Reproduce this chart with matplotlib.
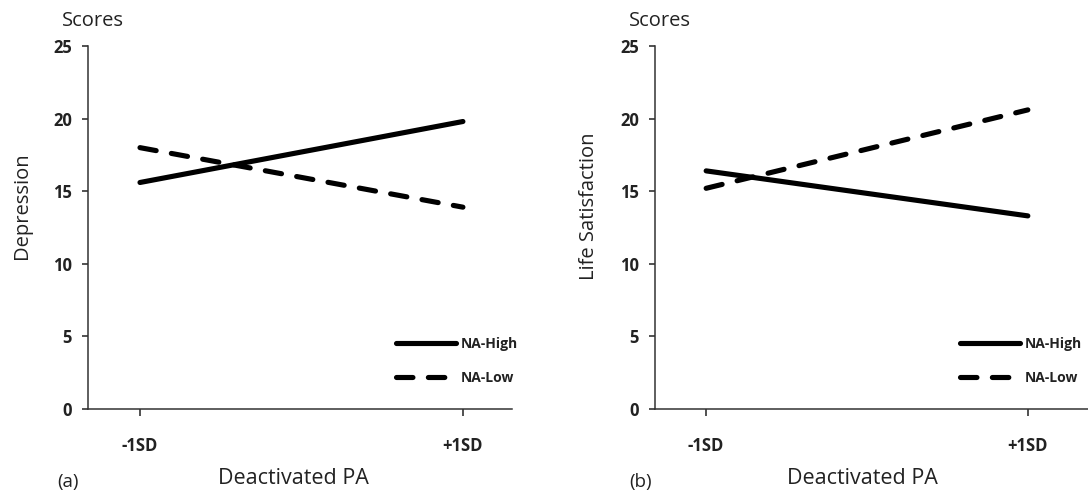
import numpy as np
import matplotlib.pyplot as plt

plt.rcParams['font.family'] = ['Open Sans', 'DejaVu Sans']

# Simple slopes data
x_levels = [0, 1]
x_labels = ["-1SD", "+1SD"]
y_ticks = [0, 5, 10, 15, 20, 25]

dep_high = [15.6, 19.8]   # NA-High, Depression
dep_low = [18.0, 13.9]    # NA-Low, Depression
ls_high = [16.4, 13.3]    # NA-High, Life Satisfaction
ls_low = [15.2, 20.6]     # NA-Low, Life Satisfaction

W, H = 1088, 492
fig = plt.figure(figsize=(W / 100, H / 100), dpi=100)


def px_axes(x0, x1, y0, y1):
    return fig.add_axes([x0 / W, 1 - y1 / H, (x1 - x0) / W, (y1 - y0) / H])


def style_panel(ax, xlim, ylabel, panel, xlab_x, leg_xy):
    ax.set_xlim(*xlim)
    ax.set_ylim(0, 25)
    for s in ['top', 'right']:
        ax.spines[s].set_visible(False)
    for s in ['left', 'bottom']:
        ax.spines[s].set_color('#333333')
        ax.spines[s].set_linewidth(1.1)
    ax.set_yticks(y_ticks)
    ax.set_xticks(x_levels)
    ax.set_xticklabels(x_labels)
    ax.tick_params(axis='y', length=4.5, width=1.1, pad=7, labelsize=12, colors='#222222')
    ax.tick_params(axis='x', direction='out', length=5, width=1.1, pad=15, labelsize=12, colors='#222222')
    for lab in ax.get_xticklabels() + ax.get_yticklabels():
        lab.set_fontweight('bold')
    pos = ax.get_position()
    fig.text(pos.x0 + 5 / W, 1 - 21 / H, "Scores", ha='center', va='center', fontsize=14.5, color='#222222')
    fig.text(pos.x0 - 66 / W, 1 - 206 / H, ylabel, rotation=90, ha='center', va='center',
             fontsize=14.5, color='#222222')
    fig.text(xlab_x / W, 1 - 479 / H, "Deactivated PA", ha='center', va='center',
             fontsize=15.5, color='#222222')
    fig.text(pos.x0 - panel[1] / W, 1 - 482 / H, panel[0], ha='center', va='center',
             fontsize=13.5, color='#222222')
    leg = ax.legend(loc='upper left', bbox_to_anchor=(leg_xy[0] / W, 1 - leg_xy[1] / H),
                    bbox_transform=fig.transFigure, frameon=False, handlelength=4.3,
                    handletextpad=0.35, labelspacing=1.45, borderpad=0, borderaxespad=0,
                    prop={'weight': 'bold', 'size': 10})
    for t in leg.get_texts():
        t.set_color('#222222')


lw = 3.7
dash = (3.2, 3.0)

# Panel (a)
ax1 = px_axes(88, 512, 46, 409)
ax1.plot(x_levels, dep_high, color='black', lw=lw, solid_capstyle='round', label='NA-High')
ax1.plot(x_levels, dep_low, color='black', lw=lw, dash_capstyle='round', dashes=dash, label='NA-Low')
style_panel(ax1, (-0.161, 1.152), "Depression", ("(a)", 20), 293, (396, 337))

# Panel (b)
ax2 = px_axes(655, 1088, 46, 409)
ax2.plot(x_levels, ls_high, color='black', lw=lw, solid_capstyle='round', label='NA-High')
ax2.plot(x_levels, ls_low, color='black', lw=lw, dash_capstyle='round', dashes=dash, label='NA-Low')
style_panel(ax2, (-0.159, 1.187), "Life Satisfaction", ("(b)", 14), 862, (960, 337))

fig.savefig("out.png", dpi=100)
